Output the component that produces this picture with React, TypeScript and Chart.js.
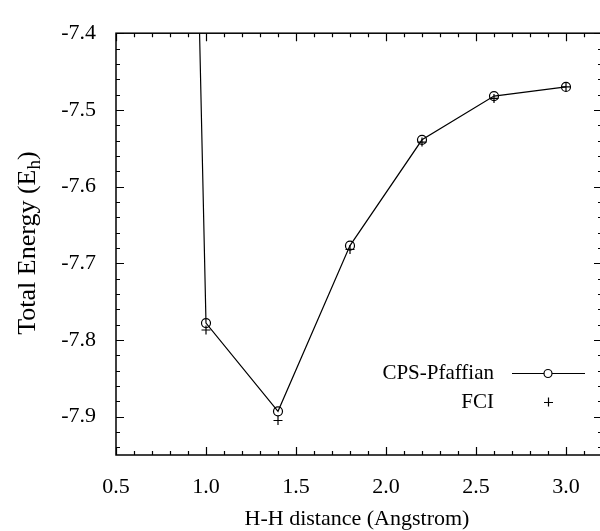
import { useEffect, useRef } from "react";
import { Chart, registerables } from "chart.js";

Chart.register(...registerables);

// ---- data ----
const pfaffianDistance = [0.6, 1.0, 1.4, 1.8, 2.2, 2.6, 3.0];
const pfaffianEnergy = [-3.55, -7.778, -7.893, -7.677, -7.539, -7.482, -7.47];
const fciDistance = [1.0, 1.4, 1.8, 2.2, 2.6, 3.0];
const fciEnergy = [-7.787, -7.905, -7.682, -7.542, -7.485, -7.47];
const xTickValues = [0.5, 1.0, 1.5, 2.0, 2.5, 3.0];
const yTickValues = [-7.9, -7.8, -7.7, -7.6, -7.5, -7.4];
const seriesLabels = ["CPS-Pfaffian", "FCI"];
const xTitle = "H-H distance (Angstrom)";
const yTitleMain = "Total Energy (E";
const yTitleSub = "h";

const FONT = "'Liberation Serif', 'Times New Roman', serif";
const FS = 21;
const TICK_FS = 22;
const YT_FS = 26;

const framePlugin = {
  id: "gnuplotFrame",
  afterDraw(chart: any) {
    const { ctx, chartArea: a, scales } = chart;
    const xs = scales.x;
    const ys = scales.y;
    ctx.save();
    ctx.strokeStyle = "#000";
    ctx.lineWidth = 1.5;
    ctx.strokeRect(a.left, a.top, a.right - a.left, a.bottom - a.top);

    ctx.lineWidth = 1.2;
    ctx.beginPath();
    // x ticks, minor every 0.1, major every 0.5
    for (let i = 5; i <= 32; i++) {
      const v = i / 10;
      const px = Math.round(xs.getPixelForValue(v)) + 0.5;
      const len = i % 5 === 0 ? 8 : 4;
      ctx.moveTo(px, a.bottom);
      ctx.lineTo(px, a.bottom - len);
      ctx.moveTo(px, a.top);
      ctx.lineTo(px, a.top + len);
    }
    // y ticks, minor every 0.02, major every 0.1
    for (let i = -397; i <= -370; i++) {
      const v = i / 50;
      const py = Math.round(ys.getPixelForValue(v)) + 0.5;
      if (py < a.top - 0.5 || py > a.bottom + 0.5) continue;
      const len = i % 5 === 0 ? 8 : 4;
      ctx.moveTo(a.left, py);
      ctx.lineTo(a.left + len, py);
      ctx.moveTo(a.right, py);
      ctx.lineTo(a.right - len, py);
    }
    ctx.stroke();

    // legend
    ctx.fillStyle = "#000";
    ctx.font = `${FS}px ${FONT}`;
    ctx.textAlign = "right";
    ctx.textBaseline = "middle";
    const ly1 = 373;
    const ly2 = 402;
    ctx.fillText(seriesLabels[0], 494, ly1);
    ctx.fillText(seriesLabels[1], 494, ly2);
    ctx.lineWidth = 1.2;
    ctx.beginPath();
    ctx.moveTo(512, ly1 + 0.5);
    ctx.lineTo(585, ly1 + 0.5);
    ctx.stroke();
    ctx.beginPath();
    ctx.arc(548, ly1 + 0.5, 4, 0, Math.PI * 2);
    ctx.fillStyle = "#fff";
    ctx.fill();
    ctx.stroke();
    ctx.beginPath();
    ctx.moveTo(548.5, ly2 - 4.5);
    ctx.lineTo(548.5, ly2 + 4.5);
    ctx.moveTo(544, ly2 + 0.5);
    ctx.lineTo(553, ly2 + 0.5);
    ctx.stroke();

    // x title
    ctx.fillStyle = "#000";
    ctx.textAlign = "center";
    ctx.textBaseline = "middle";
    ctx.font = `${TICK_FS}px ${FONT}`;
    ctx.fillText(xTitle, (a.left + a.right) / 2 - 2, 519);

    // y title with subscript
    ctx.save();
    ctx.translate(28, (a.top + a.bottom) / 2 - 1);
    ctx.rotate(-Math.PI / 2);
    const subFs = Math.round(YT_FS * 0.72);
    ctx.font = `${YT_FS}px ${FONT}`;
    const wMain = ctx.measureText(yTitleMain).width;
    ctx.font = `${subFs}px ${FONT}`;
    const wSub = ctx.measureText(yTitleSub).width;
    ctx.font = `${YT_FS}px ${FONT}`;
    const wClose = ctx.measureText(")").width;
    const total = wMain + wSub + wClose;
    let x0 = -total / 2;
    ctx.textAlign = "left";
    ctx.textBaseline = "middle";
    ctx.fillText(yTitleMain, x0, 0);
    x0 += wMain;
    ctx.font = `${subFs}px ${FONT}`;
    ctx.fillText(yTitleSub, x0, 7);
    x0 += wSub;
    ctx.font = `${YT_FS}px ${FONT}`;
    ctx.fillText(")", x0, 0);
    ctx.restore();

    ctx.restore();
  },
};

export default function App() {
  const ref = useRef<HTMLCanvasElement | null>(null);

  useEffect(() => {
    if (!ref.current) return;
    const chart = new Chart(ref.current, {
      type: "scatter",
      data: {
        datasets: [
          {
            label: seriesLabels[0],
            data: pfaffianDistance.map((x, i) => ({ x, y: pfaffianEnergy[i] })),
            showLine: true,
            borderColor: "#000",
            borderWidth: 1.2,
            backgroundColor: "rgba(0,0,0,0)",
            pointStyle: "circle",
            pointRadius: 4.5,
            pointBorderWidth: 1.2,
            pointBorderColor: "#000",
            pointBackgroundColor: "rgba(0,0,0,0)",
            tension: 0,
          },
          {
            label: seriesLabels[1],
            data: fciDistance.map((x, i) => ({ x, y: fciEnergy[i] })),
            showLine: false,
            borderColor: "#000",
            pointStyle: "cross",
            pointRadius: 4.5,
            pointBorderWidth: 1.2,
            pointBorderColor: "#000",
          },
        ],
      },
      options: {
        responsive: false,
        animation: false,
        events: [],
        layout: { padding: { left: 0, top: 18, right: 18, bottom: 0 } },
        plugins: {
          legend: { display: false },
          tooltip: { enabled: false },
          title: { display: false },
        },
        scales: {
          x: {
            type: "linear",
            min: 0.5,
            max: 3.2,
            grid: { display: false, drawTicks: false },
            border: { display: false },
            afterBuildTicks: (s: any) => {
              s.ticks = xTickValues.map((v) => ({ value: v }));
            },
            afterFit: (s: any) => {
              s.height = 76;
            },
            ticks: {
              padding: 19,
              color: "#000",
              font: { family: FONT, size: TICK_FS },
              maxRotation: 0,
              autoSkip: false,
              callback: (v: any) => Number(v).toFixed(1),
            },
          },
          y: {
            type: "linear",
            min: -7.95,
            max: -7.4,
            grid: { display: false, drawTicks: false },
            border: { display: false },
            afterBuildTicks: (s: any) => {
              s.ticks = yTickValues.map((v) => ({ value: v }));
            },
            afterFit: (s: any) => {
              s.width = 116;
            },
            ticks: {
              padding: 20,
              color: "#000",
              font: { family: FONT, size: TICK_FS },
              autoSkip: false,
              callback: (v: any) => Number(v).toFixed(1),
            },
          },
        },
      },
      plugins: [framePlugin],
    } as any);
    return () => chart.destroy();
  }, []);

  return (
    <div
      style={{
        position: "fixed",
        left: 0,
        top: 0,
        width: 600,
        height: 531,
        overflow: "hidden",
        background: "#fff",
      }}
    >
      <canvas
        ref={ref}
        width={620}
        height={531}
        style={{ display: "block", width: 620, height: 531 }}
      />
    </div>
  );
}
